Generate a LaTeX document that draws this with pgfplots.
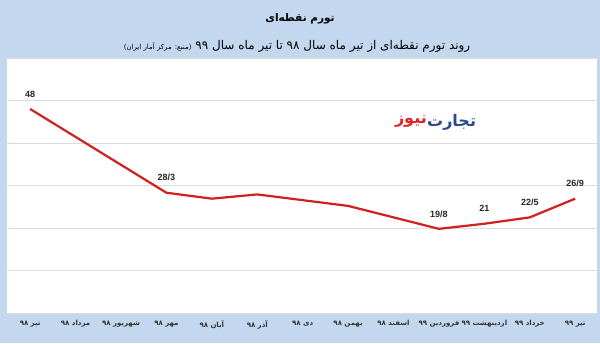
\documentclass[border=0pt]{standalone}
\usepackage{fontspec}
\usepackage{pgfplots}
\pgfplotsset{compat=1.18}
\TeXXeTstate=1
\newfontfamily\arabicfont[Script=Arabic]{DejaVu Sans}
\newfontfamily\latinfont{Liberation Sans}
\definecolor{bgblue}{HTML}{C3D8EE}
\definecolor{linered}{HTML}{D21F1F}
\definecolor{gridgray}{HTML}{DCDCDC}
\definecolor{logoblue}{HTML}{2B4C8C}
\definecolor{logored}{HTML}{E0242A}
\begin{document}
\begin{tikzpicture}
\useasboundingbox (0pt,0pt) rectangle (600pt,343pt);
\fill[bgblue] (0pt,0pt) rectangle (600pt,343pt);
\begin{axis}[at={(7pt,30pt)}, anchor=south west, scale only axis,
 width=590pt, height=255pt,
 xmin=-0.51, xmax=12.48, ymin=0, ymax=60,
 axis background/.style={fill=white},
 axis line style={draw=none},
 ytick={0,10,...,60}, yticklabels={},
 ymajorgrids, grid style={gridgray, line width=0.6pt},
 major tick length=0pt,
 xtick={0,...,12},
 xticklabels={{\arabicfont\beginR تیر ۹۸\endR},{\arabicfont\beginR مرداد ۹۸\endR},{\arabicfont\beginR شهریور ۹۸\endR},{\arabicfont\beginR مهر ۹۸\endR},{\arabicfont\beginR آبان ۹۸\endR},{\arabicfont\beginR آذر ۹۸\endR},{\arabicfont\beginR دی ۹۸\endR},{\arabicfont\beginR بهمن ۹۸\endR},{\arabicfont\beginR اسفند ۹۸\endR},{\arabicfont\beginR فروردین ۹۹\endR},{\arabicfont\beginR اردیبهشت ۹۹\endR},{\arabicfont\beginR خرداد ۹۹\endR},{\arabicfont\beginR تیر ۹۹\endR}},
 xticklabel style={font=\bfseries\fontsize{7}{8}\selectfont, text=black!80, yshift=-4pt},
 clip=false]
\addplot[linered, line width=2.2pt, line join=round] coordinates {(0,48) (3,28.3) (4,26.9) (5,27.9) (7,25.2) (9,19.8) (10,21) (11,22.5) (12,26.9)};
\addplot[draw=none, mark=none, nodes near coords, point meta=explicit symbolic,
 nodes near coords style={font=\latinfont\bfseries\fontsize{9}{10}\selectfont, text=black!85, anchor=center, yshift=15pt}]
 coordinates {(0,48)[48] (3,28.3)[28/3] (9,19.8)[19/8] (10,21)[21] (11,22.5)[22/5] (12,26.9)[26/9]};
\end{axis}
\node[anchor=west, inner sep=0pt, text=logoblue] at (427pt,221pt) {\arabicfont\bfseries\fontsize{16}{18}\selectfont\beginR تجارت\endR};
\node[anchor=east, inner sep=0pt, text=logored] at (427pt,221pt) {\arabicfont\bfseries\fontsize{16}{18}\selectfont\beginR نیوز\endR};
\node at (300pt,324pt) {\arabicfont\bfseries\fontsize{10.5}{13}\selectfont\beginR تورم نقطه‌ای\endR};
\node at (297pt,297pt) {\arabicfont\fontsize{12}{14}\selectfont\beginR روند تورم نقطه‌ای از تیر ماه سال ۹۸ تا تیر ماه سال ۹۹ {\fontsize{7}{8}\selectfont (منبع: مرکز آمار ایران)}\endR};
\end{tikzpicture}
\end{document}
